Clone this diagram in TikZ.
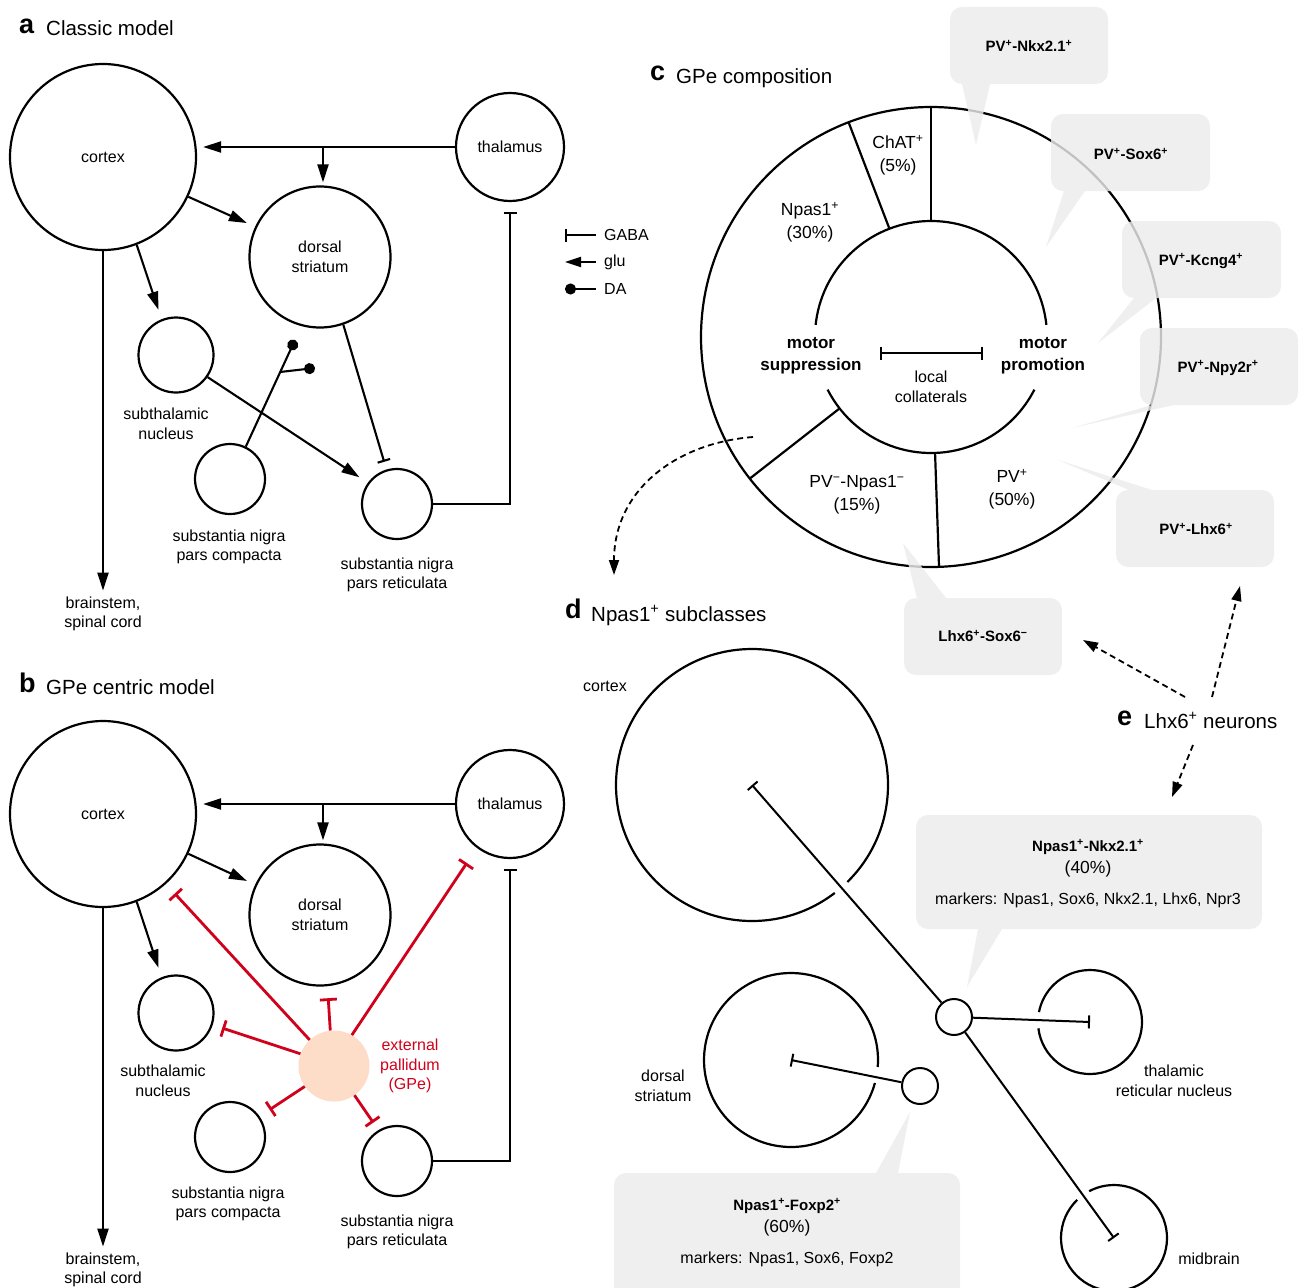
\documentclass[tikz,border=0pt]{standalone}
\usepackage{fontspec}
\setmainfont{Liberation Sans}
\usetikzlibrary{arrows.meta,calc}
\definecolor{gpered}{RGB}{208,2,27}
\definecolor{gpefill}{RGB}{253,220,200}
\definecolor{boxgray}{RGB}{236,236,236}
\newcommand\myfsreg{\fontsize{16}{19.5}\selectfont}
\newcommand\myfspie{\fontsize{17.5}{22.5}\selectfont}
\begin{document}
\begin{tikzpicture}[x=1pt,y=-1pt,
  lbl/.style={font=\myfsreg, align=center, inner sep=0pt},
  pielbl/.style={font=\myfspie, align=center, inner sep=0pt},
  btxt/.style={font=\fontsize{15}{19}\selectfont\bfseries, align=center, inner sep=0pt},
  reg/.style={circle, draw, line width=2.2pt, inner sep=0pt, font=\myfsreg, align=center},
  glu/.style={line width=2.1pt, -{Triangle[length=18pt,width=11pt]}},
  gaba/.style={line width=2.1pt, -{Bar[width=13pt]}},
  da/.style={line width=2.1pt, -{Circle[length=11pt]}},
  rgaba/.style={draw=gpered, line width=2.8pt, -{Bar[width=17pt]}},
  dgaba/.style={line width=2pt, -{Bar[width=13pt]}},
  dline/.style={line width=2.2pt},
  dsh/.style={line width=1.8pt, dash pattern=on 6pt off 4pt, -{Triangle[length=15pt,width=10pt]}},
  callout/.style={fill=boxgray, fill opacity=0.82},
  plet/.style={anchor=base west, inner sep=0pt, font=\fontsize{27}{30}\selectfont\bfseries},
  ptit/.style={anchor=base west, inner sep=0pt, font=\fontsize{20.5}{24}\selectfont}]
\useasboundingbox (0,0) rectangle (1303,1287);
\clip (0,0) rectangle (1303,1287);
\fill[white] (0,0) rectangle (1303,1287);

% ================= panel a =================
\node[plet] (tA) at (19,34) {a};
\node[ptit] (tAt) at (46,36) {Classic model};
\node[reg, minimum size=186pt] (aCtx) at (103,157) {cortex};
\node[reg, minimum size=108pt] (aThal) at (510,147) {thalamus};
\node[reg, minimum size=141pt] (aStr) at (320,257) {dorsal\\striatum};
\node[reg, minimum size=75pt] (aSTN) at (176,355) {};
\node[reg, minimum size=70pt] (aSNc) at (230,479) {};
\node[reg, minimum size=70pt] (aSNr) at (397,504) {};
\node[lbl] (aSTNl) at (166,424) {subthalamic\\nucleus};
\node[lbl] (aSNcl) at (229,547) {substantia nigra\\pars compacta};
\node[lbl] (aSNrl) at (397,575) {substantia nigra\\pars reticulata};
\node[lbl] (aBs) at (103,614) {brainstem,\\spinal cord};
\draw[glu] (aThal.west) -- ($(aThal.west -| aCtx.east)+(6,0)$);
\coordinate (aBr) at (323,147);
\draw[glu] (aBr) -- ($(aBr |- aStr.north)+(0,-3)$);
\draw[glu, shorten >=9pt] (aCtx.-25) -- (aStr.155);
\draw[glu, shorten >=10pt] (aCtx.-69) -- (aSTN.112);
\draw[glu] (aCtx.south) -- ($(aBs.north)+(0,-6)$);
\draw[glu, shorten >=10pt] (aSTN.-35) -- (aSNr.144);
\draw[gaba, shorten >=8pt] (aStr.-71) -- (aSNr.107);
\coordinate (aDA1) at (295,340);
\coordinate (aDA2) at (315,368);
\coordinate (aDAb) at (280,372);
\draw[da] (aSNc.64) -- (aDA1);
\draw[da] (aDAb) -- (aDA2);
\draw[gaba] (aSNr.east) -| ($(aThal.south)+(0,10)$);
% legend
\node[lbl, anchor=west] (lgG) at (604,235) {GABA};
\node[lbl, anchor=west] (lgU) at (604,262) {glu};
\node[lbl, anchor=west] (lgD) at (604,289) {DA};
\draw[line width=2.1pt, {Bar[width=13pt]}-] ($(lgG.west)+(-39,0)$) -- ($(lgG.west)+(-8,0)$);
\draw[line width=2.1pt, {Triangle[length=16pt,width=10pt]}-] ($(lgU.west)+(-39,0)$) -- ($(lgU.west)+(-8,0)$);
\draw[line width=2.1pt, {Circle[length=11pt]}-] ($(lgD.west)+(-39,0)$) -- ($(lgD.west)+(-8,0)$);

% ================= panel b =================
\node[plet] (tB) at (19,692) {b};
\node[ptit] (tBt) at (46,694) {GPe centric model};
\node[reg, minimum size=186pt] (bCtx) at (103,814) {cortex};
\node[reg, minimum size=108pt] (bThal) at (510,804) {thalamus};
\node[reg, minimum size=141pt] (bStr) at (320,915) {dorsal\\striatum};
\node[reg, minimum size=75pt] (bSTN) at (176,1013) {};
\node[reg, minimum size=70pt] (bSNc) at (230,1137) {};
\node[reg, minimum size=70pt] (bSNr) at (397,1161) {};
\node[circle, fill=gpefill, minimum size=71pt, inner sep=0pt] (bGPe) at (334,1066) {};
\node[lbl] (bSTNl) at (163,1081) {subthalamic\\nucleus};
\node[lbl] (bSNcl) at (228,1204) {substantia nigra\\pars compacta};
\node[lbl] (bSNrl) at (397,1232) {substantia nigra\\pars reticulata};
\node[lbl] (bBs) at (103,1270) {brainstem,\\spinal cord};
\node[lbl, text=gpered] (bGPel) at (410,1066) {external\\pallidum\\(GPe)};
\draw[glu] (bThal.west) -- ($(bThal.west -| bCtx.east)+(6,0)$);
\coordinate (bBr) at (323,804);
\draw[glu] (bBr) -- ($(bBr |- bStr.north)+(0,-3)$);
\draw[glu, shorten >=9pt] (bCtx.-25) -- (bStr.155);
\draw[glu, shorten >=10pt] (bCtx.-69) -- (bSTN.112);
\draw[glu] (bCtx.south) -- ($(bBs.north)+(0,-6)$);
\draw[gaba] (bSNr.east) -| ($(bThal.south)+(0,10)$);
\draw[rgaba, shorten >=13pt] (bGPe.133) -- (bCtx.-48);
\draw[rgaba, shorten >=12pt] (bGPe.96) -- (bStr.-84);
\draw[rgaba, shorten >=18pt] (bGPe.60) -- (bThal.233);
\draw[rgaba, shorten >=10pt] (bGPe.160) -- (bSTN.-18);
\draw[rgaba, shorten >=12pt] (bGPe.215) -- (bSNc.35);
\draw[rgaba, shorten >=9pt] (bGPe.-55) -- (bSNr.121);

% ================= panel c =================
\node[plet] (tC) at (650,81) {c};
\node[ptit] (tCt) at (676,84) {GPe composition};
\coordinate (pc) at (931,337);
\draw[dline] (pc) circle[radius=230pt];
\draw[dline] (pc) ++(6:116pt) arc[start angle=6, end angle=174, radius=116pt];
\draw[dline] (pc) ++(207:116pt) arc[start angle=207, end angle=333, radius=116pt];
\draw[dline] ($(pc)+(90:116pt)$) -- ($(pc)+(90:230pt)$);
\draw[dline] ($(pc)+(111:117pt)$) -- ($(pc)+(111:230pt)$);
\draw[dline] ($(pc)+(218:116pt)$) -- ($(pc)+(218:230pt)$);
\draw[dline] ($(pc)+(272:116pt)$) -- ($(pc)+(272:230pt)$);
\node[pielbl] (cChat) at (898,155) {ChAT\textsuperscript{+}\\(5\%)};
\node[pielbl] (cNpas) at (810,222) {Npas1\textsuperscript{+}\\(30\%)};
\node[pielbl] (cPVm) at (857,495) {PV\textsuperscript{−}-Npas1\textsuperscript{−}\\(15\%)};
\node[pielbl] (cPVp) at (1012,489) {PV\textsuperscript{+}\\(50\%)};
\node[pielbl, font=\fontsize{17}{22}\selectfont\bfseries] (cSup) at (811,356) {motor\\suppression};
\node[pielbl, font=\fontsize{17}{22}\selectfont\bfseries] (cPro) at (1043,356) {motor\\promotion};
\node[lbl] (cLoc) at (931,387) {local\\collaterals};
\coordinate (lcA) at (880,353);
\coordinate (lcB) at (983,353);
\draw[line width=2pt, {Bar[width=13pt]}-{Bar[width=13pt]}] (lcA) -- (lcB);
% callouts
\fill[callout] (950,7) [rounded corners=12pt] rectangle (1108,84) [sharp corners] (962,84) -- (990,84) -- (976,145) -- cycle;
\fill[callout] (1051,114) [rounded corners=12pt] rectangle (1210,191) [sharp corners] (1064,191) -- (1085,191) -- (1046,247) -- cycle;
\fill[callout] (1122,221) [rounded corners=12pt] rectangle (1281,298) [sharp corners] (1134,298) -- (1156,298) -- (1098,343) -- cycle;
\fill[callout] (1140,328) [rounded corners=12pt] rectangle (1298,405) [sharp corners] (1152,405) -- (1174,405) -- (1072,428) -- cycle;
\fill[callout] (1116,490) [rounded corners=12pt] rectangle (1274,567) [sharp corners] (1129,490) -- (1152,490) -- (1058,460) -- cycle;
\fill[callout] (904,598) [rounded corners=12pt] rectangle (1062,675) [sharp corners] (917,598) -- (946,598) -- (903,543) -- cycle;
\fill[callout] (916,815) [rounded corners=12pt] rectangle (1262,929) [sharp corners] (978,929) -- (1002,929) -- (967,987) -- cycle;
\fill[callout] (614,1173) [rounded corners=12pt] rectangle (960,1300) [sharp corners] (876,1173) -- (898,1173) -- (910,1112) -- cycle;
\node[btxt] (xNkx) at (1029,46) {PV\textsuperscript{+}-Nkx2.1\textsuperscript{+}};
\node[btxt] (xSox) at (1131,154) {PV\textsuperscript{+}-Sox6\textsuperscript{+}};
\node[btxt] (xKcn) at (1201,261) {PV\textsuperscript{+}-Kcng4\textsuperscript{+}};
\node[btxt] (xNpy) at (1218,368) {PV\textsuperscript{+}-Npy2r\textsuperscript{+}};
\node[btxt] (xLhx) at (1196,529) {PV\textsuperscript{+}-Lhx6\textsuperscript{+}};
\node[btxt] (xLS) at (983,636) {Lhx6\textsuperscript{+}-Sox6\textsuperscript{−}};
\coordinate (cs) at (753,437);
\coordinate (ct) at (614,575);
\draw[dsh] (cs) .. controls (676,443) and (614,490) .. (ct);

% ================= panel d =================
\node[plet] (tD) at (565,618) {d};
\node[ptit] (tDt) at (591,621) {Npas1\textsuperscript{+} subclasses};
\coordinate (dCtx) at (752,785);
\coordinate (dStr) at (791,1060);
\coordinate (dTRN) at (1090,1022);
\coordinate (dMid) at (1114,1238);
\draw[dline] (dCtx) ++(-45.5:136pt) arc[start angle=-45.5, end angle=307.5, radius=136pt];
\draw[dline] (dStr) ++(-4.6:87pt) arc[start angle=-4.6, end angle=344.7, radius=87pt];
\draw[dline] (dTRN) ++(-173:52pt) arc[start angle=-173, end angle=169, radius=52pt];
\draw[dline] (dMid) ++(134:53pt) arc[start angle=134, end angle=478, radius=53pt];
\node[reg, minimum size=36pt, line width=2pt] (dA) at (954,1017) {};
\node[reg, minimum size=36pt, line width=2pt] (dB) at (920,1086) {};
\draw[dgaba] (dA) -- (dCtx);
\draw[dgaba] (dA) -- (dTRN);
\draw[dgaba] (dA) -- (dMid);
\draw[dgaba] (dB) -- (dStr);
\node[lbl] (dCtxl) at (605,686) {cortex};
\node[lbl] (dStrl) at (663,1086) {dorsal\\striatum};
\node[lbl] (dTRNl) at (1174,1081) {thalamic\\reticular nucleus};
\node[lbl] (dMidl) at (1209,1259) {midbrain};
\node[btxt] (xNN) at (1088,847) {Npas1\textsuperscript{+}-Nkx2.1\textsuperscript{+}};
\node[pielbl] (xNNp) at (1088,869) {(40\%)};
\node[lbl] (xNNm) at (1088,900) {markers: Npas1, Sox6, Nkx2.1, Lhx6, Npr3};
\node[btxt] (xNF) at (787,1206) {Npas1\textsuperscript{+}-Foxp2\textsuperscript{+}};
\node[pielbl] (xNFp) at (787,1228) {(60\%)};
\node[lbl] (xNFm) at (787,1259) {markers: Npas1, Sox6, Foxp2};

% ================= panel e =================
\node[plet] (tE) at (1117,725) {e};
\node[ptit] (tEt) at (1144,728) {Lhx6\textsuperscript{+} neurons};
\coordinate (e1s) at (1185,697);
\coordinate (e1t) at (1083,640);
\coordinate (e2s) at (1212,697);
\coordinate (e2t) at (1240,586);
\coordinate (e3s) at (1193,745);
\coordinate (e3t) at (1172,797);
\draw[dsh] (e1s) -- (e1t);
\draw[dsh] (e2s) -- (e2t);
\draw[dsh] (e3s) -- (e3t);
\end{tikzpicture}
\end{document}
